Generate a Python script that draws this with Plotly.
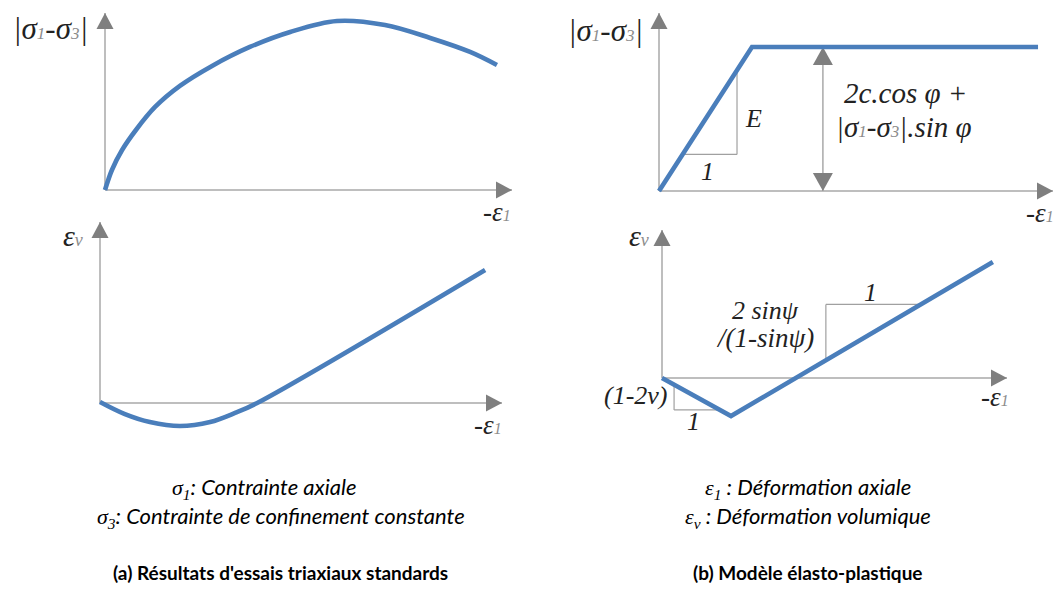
import plotly.graph_objects as go

W, H = 1053, 596

# ---- (a) Standard triaxial test results (schematic, arbitrary units) ----
# deviatoric stress |σ1-σ3| against axial strain -ε1
a_strain = [0, 0.17, 0.42, 0.76, 1.23, 1.84, 2.63, 3.56, 4.55, 5.70, 6.88, 7.99, 8.97, 9.63]
a_dev = [0, 1.13, 2.26, 3.39, 4.69, 5.88, 7.01, 8.08, 8.93, 9.55, 9.32, 8.59, 7.80, 7.06]
# volumetric strain εv against axial strain -ε1
b_strain = [0, 0.62, 1.24, 1.99, 2.74, 3.36, 3.91, 9.58]
b_vol = [0.06, -0.61, -1.05, -1.27, -1.05, -0.55, 0.0, 7.35]

# ---- (b) Elasto-plastic (Mohr-Coulomb) model ----
c_strain = [0, 2.36, 9.62]
c_dev = [0, 8.09, 8.09]
d_strain = [0, 2.0, 9.59]
d_vol = [0, -2.57, 7.84]

# axis arrow length for every small diagram
AXIS_LEN = 10.0

BLUE = "#4a7ebb"
AXIS_GRAY = "#a9a9a9"
HEAD_GRAY = "#7f7f7f"
THIN_GRAY = "#a0a0a0"
SERIF = "Liberation Serif"
SANS = "Lato"

# pixel boxes of the four diagrams: (left, right, top, bottom, origin_x, origin_y, x_tip, y_tip)
panels = {
    1: (30, 525, 2, 218, 105, 190, 512, 13),
    2: (40, 515, 220, 442, 100, 403, 502, 222),
    3: (555, 1053, 2, 218, 659, 191, 1053, 13),
    4: (580, 1020, 220, 442, 662, 378, 1007, 230),
}

fig = go.Figure()
layout_axes = {}
for k, (L, R, T, B, ox, oy, xt, yt) in panels.items():
    sx = (xt - ox) / AXIS_LEN
    sy = (oy - yt) / AXIS_LEN
    xname = "xaxis" if k == 1 else f"xaxis{k}"
    yname = "yaxis" if k == 1 else f"yaxis{k}"
    layout_axes[xname] = dict(domain=[L / W, R / W], range=[(L - ox) / sx, (R - ox) / sx],
                              visible=False, fixedrange=True,
                              anchor="y" if k == 1 else f"y{k}")
    layout_axes[yname] = dict(domain=[1 - B / H, 1 - T / H], range=[(oy - B) / sy, (oy - T) / sy],
                              visible=False, fixedrange=True,
                              anchor="x" if k == 1 else f"x{k}")


def refs(k):
    return ("x", "y") if k == 1 else (f"x{k}", f"y{k}")


shapes = []


def seg(k, x0, y0, x1, y1, color=THIN_GRAY, width=1.2):
    xr, yr = refs(k)
    shapes.append(dict(type="line", xref=xr, yref=yr, x0=x0, y0=y0, x1=x1, y1=y1,
                       line=dict(color=color, width=width), layer="below"))


def head(k, x, y, direction, length=16, half=8.5):
    xr, yr = refs(k)
    if direction == "right":
        path = f"M0,0 L{-length},{half} L{-length},{-half} Z"
    elif direction == "up":
        path = f"M0,0 L{-half},{-length} L{half},{-length} Z"
    else:
        path = f"M0,0 L{-half},{length} L{half},{length} Z"
    shapes.append(dict(type="path", xref=xr, yref=yr, xsizemode="pixel", ysizemode="pixel",
                       xanchor=x, yanchor=y, path=path, fillcolor=HEAD_GRAY,
                       line=dict(width=0), layer="below"))


# axes with arrow heads
for k in panels:
    seg(k, 0, 0, AXIS_LEN, 0, AXIS_GRAY, 1.5)
    seg(k, 0, 0, 0, AXIS_LEN, AXIS_GRAY, 1.5)
    head(k, AXIS_LEN, 0, "right")
    head(k, 0, AXIS_LEN, "up")

# curves
for k, xs, ys, shp in [(1, a_strain, a_dev, "spline"), (2, b_strain, b_vol, "spline"),
                       (3, c_strain, c_dev, "linear"), (4, d_strain, d_vol, "linear")]:
    xr, yr = refs(k)
    fig.add_trace(go.Scatter(x=xs, y=ys, mode="lines", xaxis=xr, yaxis=yr,
                             line=dict(color=BLUE, width=4.6, shape=shp, smoothing=1.0),
                             hoverinfo="skip", showlegend=False))

# slope triangle for Young's modulus E
E_slope = c_dev[1] / c_strain[1]
tx0, tx1 = 0.6, 1.98
seg(3, tx0, E_slope * tx0, tx1, E_slope * tx0)
seg(3, tx1, E_slope * tx0, tx1, E_slope * tx1)

# yield plateau height: double arrow
x_arr = 4.16
seg(3, x_arr, 0, x_arr, c_dev[1], AXIS_GRAY, 1.5)
head(3, x_arr, c_dev[1], "up", 18, 10)
head(3, x_arr, 0, "down", 18, 10)

# elastic contraction triangle (1-2ν)
s_el = d_vol[1] / d_strain[1]
ex0, ex1 = 0.35, 1.68
seg(4, ex0, s_el * ex0, ex0, s_el * ex1)
seg(4, ex0, s_el * ex1, ex1, s_el * ex1)

# dilatancy triangle
s_pl = (d_vol[2] - d_vol[1]) / (d_strain[2] - d_strain[1])
px0, px1 = 4.75, 7.5


def dil(x):
    return d_vol[1] + s_pl * (x - d_strain[1])


seg(4, px0, dil(px0), px0, dil(px1))
seg(4, px0, dil(px1), px1, dil(px1))

annotations = []


def sub(t, size=16, color="#8c8c8c"):
    return f"<span style='font-size:{size}px;color:{color}'>{t}</span>"


def label(k, x, y, text, size=26, xanchor="center"):
    xr, yr = refs(k)
    annotations.append(dict(xref=xr, yref=yr, x=x, y=y, text=text, showarrow=False,
                            xanchor=xanchor, yanchor="middle",
                            font=dict(family=SERIF, size=size, color="#222", style="italic")))


dev_label = "|σ" + sub("1", 17) + "-σ" + sub("3", 17) + "|"
eps1_label = "-ε" + sub("1", 16)
epsv_label = "ε" + sub("v", 18)

label(1, -1.33, 9.1, dev_label, 31)
label(1, 9.63, -1.24, eps1_label, 27)
label(2, -0.67, 9.28, epsv_label, 30)
label(2, 9.65, -1.22, eps1_label, 27)
label(3, -1.35, 9.04, dev_label, 31)
label(3, 9.67, -1.24, eps1_label, 27)
label(3, 2.39, 4.1, "E", 26)
label(3, 1.22, 1.07, "1", 26)
label(3, 6.25, 5.5, "2c.cos φ +", 29)
label(3, 6.22, 3.6, "|σ" + sub("1", 17) + "-σ" + sub("3", 17) + "|.sin φ", 29)
label(4, -0.67, 9.66, epsv_label, 30)
label(4, 9.65, -1.28, eps1_label, 27)
label(4, -0.75, -1.15, "(1-2ν)", 26)
label(4, 0.9, -2.97, "1", 26)
label(4, 6.03, 5.81, "1", 26)
label(4, 2.99, 4.59, "2 sinψ", 26)
label(4, 2.99, 2.70, "/(1-sinψ)", 27)


def caption(xpx, ypx, text, size=22, bold=False):
    annotations.append(dict(xref="paper", yref="paper", x=xpx / W, y=1 - ypx / H, text=text,
                            showarrow=False, xanchor="center", yanchor="middle",
                            font=dict(family=SANS, size=size, color="#000",
                                      style="normal" if bold else "italic",
                                      weight="bold" if bold else "normal")))


def mathsym(sym, idx):
    return (f"<span style='font-family:{SERIF};font-style:italic'>{sym}"
            f"<sub>{idx}</sub></span>")


caption(264, 488, mathsym("σ", "1") + ": Contrainte axiale")
caption(281, 517, mathsym("σ", "3") + ": Contrainte de confinement constante")
caption(808, 488, mathsym("ε", "1") + " : Déformation axiale")
caption(808, 517, mathsym("ε", "v") + " : Déformation volumique")
caption(280, 572, "(a) Résultats d'essais triaxiaux standards", 19, True)
caption(808, 572, "(b) Modèle élasto-plastique", 19, True)

fig.update_layout(width=W, height=H, margin=dict(l=0, r=0, t=0, b=0),
                  paper_bgcolor="white", plot_bgcolor="white",
                  shapes=shapes, annotations=annotations, showlegend=False,
                  **layout_axes)

fig.write_html("out.html", config={"displayModeBar": False})
